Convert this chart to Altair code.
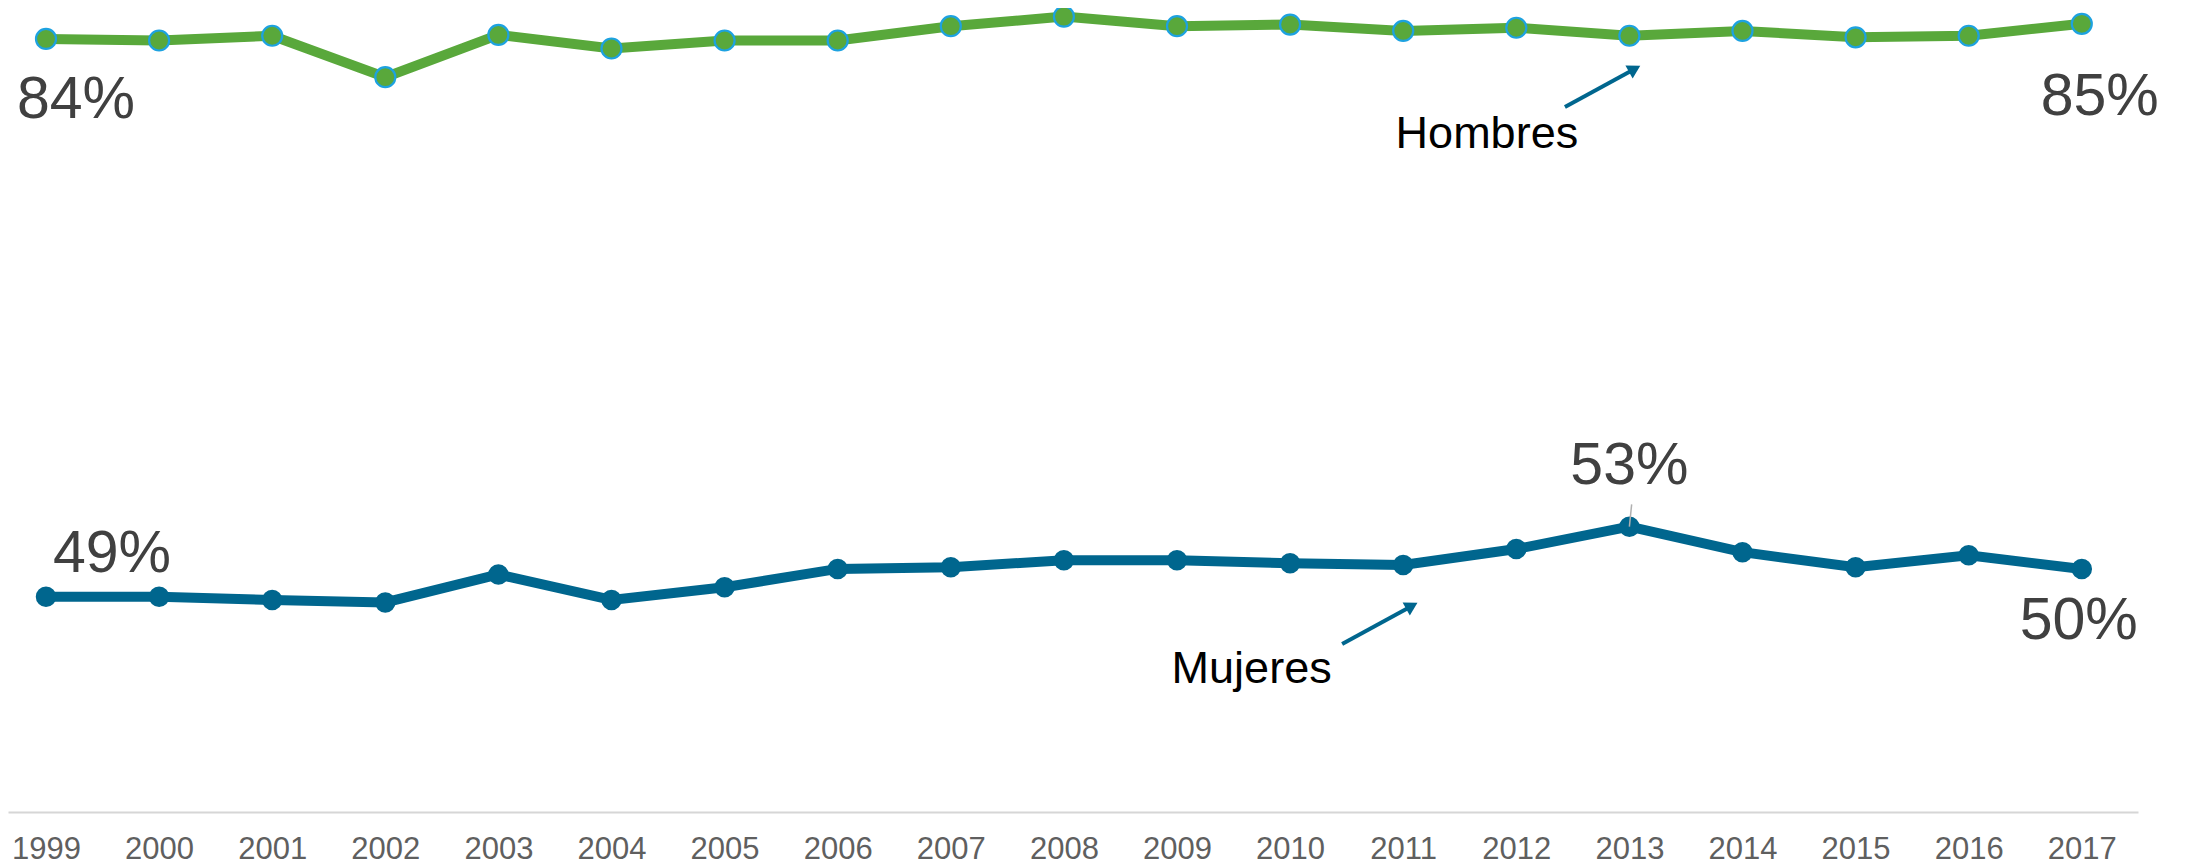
import altair as alt
import pandas as pd

# ---- data ----
years = list(range(1999, 2018))
hombres = [83.6, 83.5, 83.8, 81.2, 83.85, 83.0, 83.5, 83.5, 84.4, 85.0,
           84.4, 84.5, 84.1, 84.3, 83.8, 84.1, 83.7, 83.8, 84.55]
mujeres = [48.6, 48.6, 48.4, 48.25, 50.0, 48.4, 49.2, 50.35, 50.45, 50.9,
           50.9, 50.7, 50.6, 51.6, 53.0, 51.4, 50.45, 51.2, 50.35]
series_names = ["Hombres", "Mujeres"]

# annotation anchors (data coordinates)
name_years = [2011.74, 2009.66]
name_values = [77.63, 44.04]
arrow_series = ["Hombres", "Hombres", "Mujeres", "Mujeres"]
arrow_years = [2012.43, 2013.03, 2010.46, 2011.06]
arrow_values = [79.33, 81.65, 45.64, 47.96]

GREEN = "#59A83B"
BLUE = "#00668E"
OUTLINE = "#1DA2E0"
LABEL = "#404040"
FONT = "Liberation Sans"

df = pd.DataFrame({
    "year": years * 2,
    "value": hombres + mujeres,
    "serie": [series_names[0]] * len(years) + [series_names[1]] * len(years),
})
df_h = df[df.serie == "Hombres"]
df_m = df[df.serie == "Mujeres"]

x_scale = alt.Scale(domain=[1998.664, 2017.497], nice=False, zero=False)
y_scale = alt.Scale(domain=[35.1, 85.54], nice=False, zero=False)

X = alt.X("year:Q", scale=x_scale,
          axis=alt.Axis(values=years, format="d", title=None, grid=False, ticks=False,
                        labelFlush=False, labelOverlap=False, labelFontSize=31,
                        labelColor="#5f5f5f", labelFont=FONT, labelPadding=22,
                        domainColor="#d6d6d6", domainWidth=2))
Y = alt.Y("value:Q", scale=y_scale, axis=None)
color = alt.Color("serie:N", scale=alt.Scale(domain=series_names, range=[GREEN, BLUE]), legend=None)

lines = alt.Chart(df).mark_line(strokeWidth=10).encode(x=X, y=Y, color=color, detail="serie:N")

pts_h = alt.Chart(df_h).mark_circle(size=400, color=GREEN, opacity=1, stroke=OUTLINE,
                                     strokeWidth=2.2).encode(x=X, y=Y)
pts_m = alt.Chart(df_m).mark_circle(size=420, color=BLUE, opacity=1).encode(x=X, y=Y)


def pct_label(frame, year, dx, dy):
    d = frame[frame.year == year].copy()
    d["txt"] = d["value"].round().astype(int).astype(str) + "%"
    return alt.Chart(d).mark_text(fontSize=59, font=FONT, color=LABEL, align="center",
                                  baseline="middle", dx=dx, dy=dy).encode(x=X, y=Y, text="txt:N")


labels = [
    pct_label(df_h, 1999, 30, 61),
    pct_label(df_h, 2017, 18, 73),
    pct_label(df_m, 1999, 66, -43),
    pct_label(df_m, 2013, 0, -61),
    pct_label(df_m, 2017, -3, 52),
]

# leader line for the 53% label
lead = df_m[df_m.year == 2013].copy()
lead["year2"] = lead["year"] + 0.02
lead["value2"] = lead["value"] + 1.4
leader = alt.Chart(lead).mark_rule(color="#b0b0b0", strokeWidth=1.5).encode(
    x=X, y=Y, x2="year2:Q", y2="value2:Q")

names = alt.Chart(pd.DataFrame({"year": name_years, "value": name_values, "serie": series_names})).mark_text(
    fontSize=45, font=FONT, color="#000000", align="center", baseline="middle").encode(x=X, y=Y, text="serie:N")

arrows_df = pd.DataFrame({"year": arrow_years, "value": arrow_values, "serie": arrow_series})
arrow_lines = alt.Chart(arrows_df).mark_line(color=BLUE, strokeWidth=4).encode(x=X, y=Y, detail="serie:N")
heads_df = arrows_df.iloc[[1, 3]]
arrow_heads = alt.Chart(heads_df).mark_point(shape="triangle", filled=True, color=BLUE, opacity=1,
                                             size=220, angle=61).encode(x=X, y=Y)

chart = alt.layer(lines, pts_h, pts_m, leader, *labels, names, arrow_lines, arrow_heads).properties(
    width=2130, height=804,
    padding={"left": 0, "top": 0, "right": 40, "bottom": 54},
    autosize=alt.AutoSizeParams(type="none"),
).configure_view(stroke=None)

chart.save("out.html", embed_options={"renderer": "svg", "actions": False})
